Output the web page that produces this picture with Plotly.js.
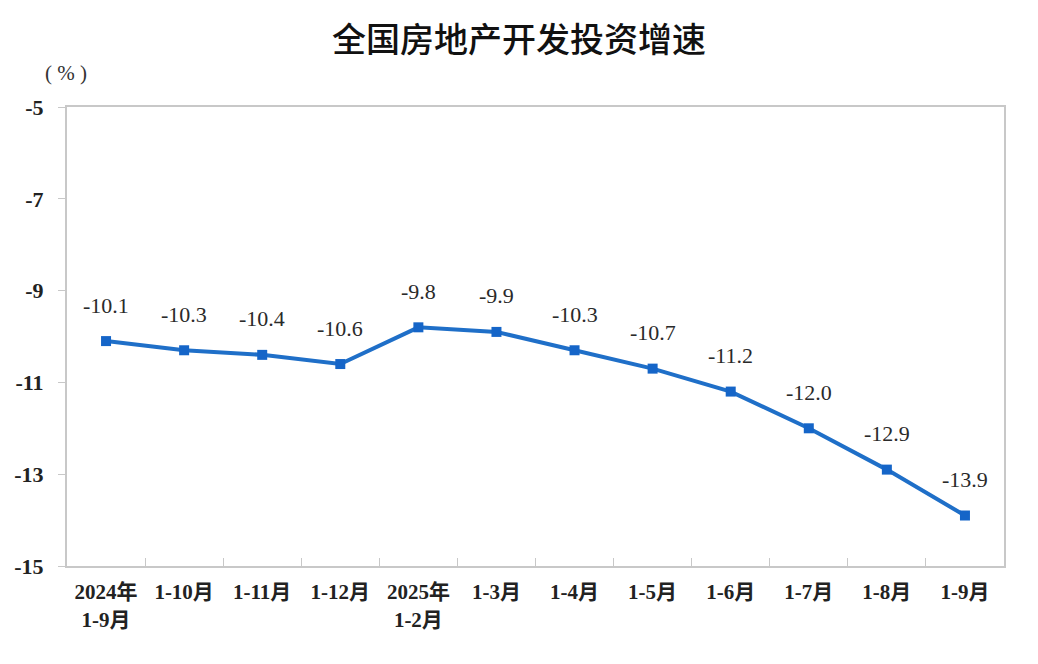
<!DOCTYPE html>
<html><head><meta charset="utf-8">
<script src="https://cdn.plot.ly/plotly-3.0.1.min.js"></script>
<style>body{margin:0;background:#fff}#c{width:1038px;height:664px}</style>
</head><body><div id="c"></div>
<script>
var categories = ["2024年<br>1-9月","1-10月","1-11月","1-12月","2025年<br>1-2月","1-3月","1-4月","1-5月","1-6月","1-7月","1-8月","1-9月"];
var growth = [-10.1,-10.3,-10.4,-10.6,-9.8,-9.9,-10.3,-10.7,-11.2,-12.0,-12.9,-13.9];
var yTicks = [-15,-13,-11,-9,-7,-5];

var serif = "Liberation Serif, 'Noto Sans CJK SC', serif";
var trace = {
  x: categories, y: growth, type: "scatter", mode: "lines+markers",
  line: {color: "#1f6fc8", width: 4},
  marker: {symbol: "square", size: 10, color: "#1565c8"},
  hoverinfo: "skip"
};
var annotations = growth.map(function(v, i){
  return {x: categories[i], y: v, text: v.toFixed(1), showarrow: false,
    yshift: 36, font: {family: serif, size: 22, color: "#2a2a2a"}};
});
annotations.push({xref: "paper", yref: "paper", x: 0, xshift: -1, y: 1.074, xanchor: "center", yanchor: "middle",
  text: "( % )", showarrow: false, font: {family: serif, size: 21, color: "#333"}});
var layout = {
  width: 1038, height: 664,
  margin: {l: 67, r: 34, t: 107, b: 98},
  paper_bgcolor: "#fff", plot_bgcolor: "#fff",
  title: {text: "全国房地产开发投资增速", x: 0.5, xanchor: "center", y: 0.94, yanchor: "middle",
    font: {family: "'Noto Sans CJK SC', sans-serif", size: 34, color: "#111", weight: 500}},
  showlegend: false,
  xaxis: {type: "category", range: [-0.5, 11.5], tickson: "boundaries", ticks: "inside", ticklen: 8, tickcolor: "#c8c8c8",
    showline: true, linecolor: "#c8c8c8", linewidth: 2, mirror: true, showgrid: false,
    ticklabelstandoff: 6,
    tickfont: {family: serif, size: 21, color: "#222", weight: "bold"}, fixedrange: true},
  yaxis: {range: [-15, -5], tickvals: yTicks, ticktext: yTicks.map(String), ticks: "outside", ticklen: 7,
    tickcolor: "#c8c8c8", showline: true, linecolor: "#c8c8c8", linewidth: 2, mirror: true,
    showgrid: false, zeroline: false, ticklabelstandoff: 10,
    tickfont: {family: serif, size: 22, color: "#222", weight: "bold"}, fixedrange: true},
  annotations: annotations
};
Plotly.newPlot("c", [trace], layout, {displayModeBar: false, staticPlot: true});
</script></body></html>
